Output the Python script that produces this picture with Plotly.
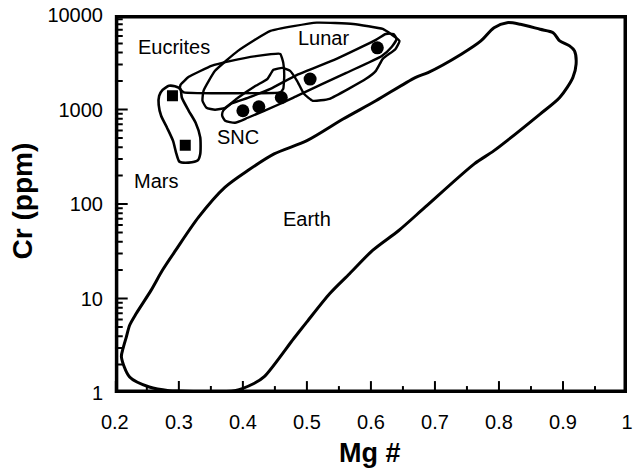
import math
import plotly.graph_objects as go

# ---- data (Mg#, Cr ppm) ----
earth_mg = [0.2103, 0.2128, 0.218, 0.2231, 0.2334, 0.2565, 0.2743, 0.2949, 0.3308, 0.3718,
            0.4077, 0.4488, 0.5, 0.5565, 0.6077, 0.6692, 0.6892, 0.7411, 0.7718, 0.7923,
            0.8128, 0.8334, 0.8642, 0.8846, 0.8949, 0.9103, 0.918, 0.9205, 0.9154, 0.8949,
            0.8642, 0.7923, 0.7615, 0.6846, 0.6435, 0.6026, 0.5666, 0.5358, 0.5, 0.4795,
            0.4334, 0.418, 0.3872, 0.3, 0.2846, 0.2538, 0.2231, 0.2103]
earth_cr = [2.42, 2.96, 3.93, 5.22, 6.94, 12.2, 19.9, 32.3, 72.6, 150,
            226, 339, 468, 793, 1237, 2180, 2460, 3850, 5320, 7350,
            8300, 7980, 7060, 6500, 5320, 4710, 4170, 3020, 2180, 1340,
            895, 367, 266, 92.5, 52.5, 32.3, 18.3, 11.3, 5.66, 3.78,
            1.49, 1.27, 1.06, 1.05, 1.06, 1.16, 1.48, 2.42]

mars_mg = [0.2846, 0.2938, 0.3026, 0.3046, 0.3154, 0.3262, 0.3334, 0.3334, 0.3292, 0.3154,
           0.3008, 0.2962, 0.2908, 0.2815, 0.2723, 0.2685, 0.2692, 0.2746, 0.2846]
mars_cr = [1782, 1760, 1644, 1340, 970, 725, 507, 339, 288, 274,
           281, 339, 468, 642, 859, 1122, 1397, 1616, 1782]

eucrite_mg = [0.3026, 0.3154, 0.3508, 0.3815, 0.4231, 0.4585, 0.4631, 0.4646, 0.4631, 0.4585,
              0.3077, 0.3015, 0.3026]
eucrite_cr = [1824, 2217, 2895, 3270, 3690, 3875, 3115, 2270, 1656, 1521,
              1521, 1656, 1824]

lunar_mg = [0.3369, 0.3385, 0.3565, 0.3923, 0.4431, 0.5154, 0.5723, 0.6185, 0.6323, 0.6446,
            0.6385, 0.6185, 0.6077, 0.5923, 0.5354, 0.5092, 0.4954, 0.4846, 0.4738, 0.4615,
            0.4477, 0.4385, 0.42, 0.3923, 0.3723, 0.3565, 0.3431, 0.3369]
lunar_cr = [1237, 1578, 2565, 4170, 6780, 8300, 8040, 7120, 6200, 5320,
            4380, 3435, 2565, 2112, 1298, 1237, 1466, 2011, 2565, 2760,
            2630, 2112, 1782, 1331, 1043, 994, 1043, 1237]

snc_mg = [0.3692, 0.3815, 0.4077, 0.4431, 0.4846, 0.5462, 0.6077, 0.6231, 0.6354, 0.64,
          0.6323, 0.6169, 0.5615, 0.4846, 0.4585, 0.4077, 0.3877, 0.3723, 0.3677, 0.3692]
snc_cr = [970, 1150, 1331, 1656, 2328, 3435, 5450, 6300, 6300, 5580,
          4590, 3690, 2443, 1397, 1150, 818, 725, 761, 859, 970]

mars_pts_mg = [0.29, 0.31]
mars_pts_cr = [1400, 420]

snc_pts_mg = [0.40, 0.425, 0.46, 0.505, 0.61]
snc_pts_cr = [970, 1070, 1340, 2100, 4500]

label_text = ["Eucrites", "Lunar", "SNC", "Mars", "Earth"]
label_mg = [0.2923, 0.5262, 0.3923, 0.2646, 0.50]
label_cr = [4590, 5720, 516, 177, 70.3]

x_ticks = [0.2, 0.3, 0.4, 0.5, 0.6, 0.7, 0.8, 0.9, 1.0]
x_ticktext = ["0.2", "0.3", "0.4", "0.5", "0.6", "0.7", "0.8", "0.9", "1"]
x_minor = [0.25, 0.35, 0.45, 0.55, 0.65, 0.75, 0.85, 0.95]
y_ticks = [1, 10, 100, 1000, 10000]
y_ticktext = ["1", "10", "100", "1000", "10000"]
y_minor = [m * 10 ** d for d in range(4) for m in range(2, 10)]

FONT = "Arial"
XR = [0.2, 1.0]
YR = [0, 4]          # log10 range, 1 .. 10000

W, H = 637, 470
ML, MR, MT, MB = 103, 4, 14, 62
XDOM = [0.0226, 1.0]
YDOM = [0.038, 1.0]
plot_w = (W - ML - MR) * (XDOM[1] - XDOM[0])
plot_h = (H - MT - MB) * (YDOM[1] - YDOM[0])
x_per_px = (XR[1] - XR[0]) / plot_w
logy_per_px = (YR[1] - YR[0]) / plot_h

fig = go.Figure()

for xs, ys, w, sm in [(earth_mg, earth_cr, 3, 0.8), (mars_mg, mars_cr, 2.6, 0.6),
                      (eucrite_mg, eucrite_cr, 2.4, 0.3), (lunar_mg, lunar_cr, 2.4, 0.4),
                      (snc_mg, snc_cr, 2.4, 0.5)]:
    fig.add_trace(go.Scatter(x=xs, y=ys, mode="lines",
                             line=dict(color="black", width=w, shape="spline", smoothing=sm)))

fig.add_trace(go.Scatter(x=mars_pts_mg, y=mars_pts_cr, mode="markers",
                         marker=dict(symbol="square", size=11, color="black")))
fig.add_trace(go.Scatter(x=snc_pts_mg, y=snc_pts_cr, mode="markers",
                         marker=dict(symbol="circle", size=13, color="black")))

# ---- axis frame and tick marks, positioned on the axes' own scales ----
ymin, ymax = 10 ** YR[0], 10 ** YR[1]
fig.add_trace(go.Scatter(x=[XR[0], XR[1], XR[1], XR[0], XR[0]], y=[ymin, ymin, ymax, ymax, ymin],
                         mode="lines", line=dict(color="black", width=7), hoverinfo="skip"))

def tick_segments(vals, length_px, axis):
    xs, ys = [], []
    for v in vals:
        if axis == "x":
            xs += [v, v, None]
            ys += [ymin, ymin * 10 ** (length_px * logy_per_px), None]
        else:
            xs += [XR[0], XR[0] + length_px * x_per_px, None]
            ys += [v, v, None]
    return xs, ys

for vals, L, ax in [(x_ticks, 12, "x"), (x_minor, 7, "x"), (y_ticks, 13, "y"), (y_minor, 8, "y")]:
    tx, ty = tick_segments(vals, L, ax)
    fig.add_trace(go.Scatter(x=tx, y=ty, mode="lines", line=dict(color="black", width=2),
                             hoverinfo="skip"))

annotations = []
for t, mx, cy in zip(label_text, label_mg, label_cr):
    annotations.append(dict(x=mx, y=math.log10(cy), xref="x", yref="y", text=t, showarrow=False,
                            xanchor="center", yanchor="middle",
                            font=dict(family=FONT, size=20, color="black")))
annotations.append(dict(x=0.5094, y=-0.114, xref="paper", yref="paper", text="<b>Mg #</b>",
                        showarrow=False, xanchor="center", yanchor="middle",
                        font=dict(family=FONT, size=27, color="black")))
annotations.append(dict(x=-0.1528, y=0.528, xref="paper", yref="paper", text="<b>Cr (ppm)</b>",
                        showarrow=False, xanchor="center", yanchor="middle", textangle=-90,
                        font=dict(family=FONT, size=28, color="black")))

fig.update_layout(width=W, height=H, margin=dict(l=ML, r=MR, t=MT, b=MB),
                  paper_bgcolor="white", plot_bgcolor="rgba(0,0,0,0)", showlegend=False,
                  annotations=annotations)
fig.update_xaxes(range=XR, domain=XDOM, anchor="free", position=0,
                 tickvals=x_ticks, ticktext=x_ticktext, ticks="", ticklabeloverflow="allow",
                 tickfont=dict(family=FONT, size=20, color="black"),
                 showline=False, showgrid=False, zeroline=False)
fig.update_yaxes(type="log", range=YR, domain=YDOM, anchor="free", position=0,
                 tickvals=y_ticks, ticktext=y_ticktext, ticks="", ticklabeloverflow="allow",
                 tickfont=dict(family=FONT, size=20, color="black"),
                 showline=False, showgrid=False, zeroline=False)
fig.write_html("out.html")
